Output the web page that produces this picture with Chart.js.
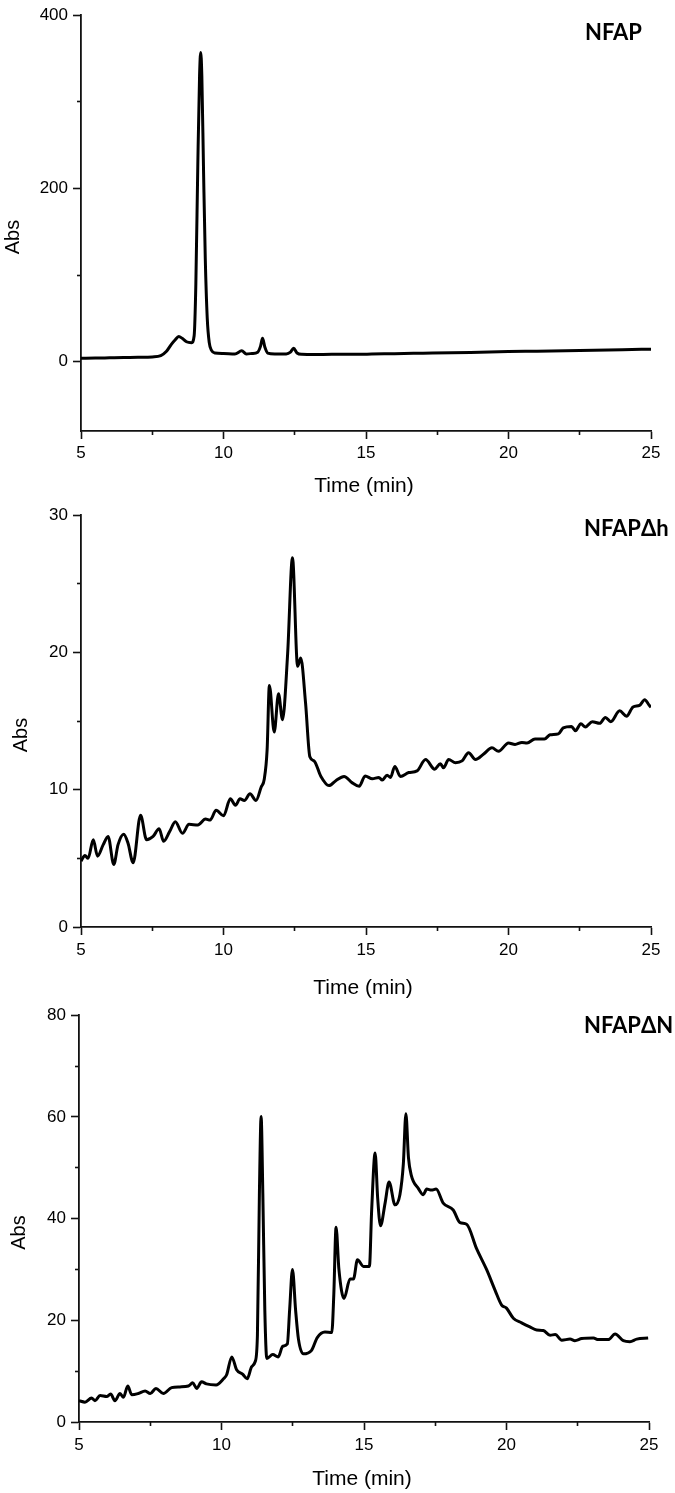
<!DOCTYPE html>
<html><head><meta charset="utf-8">
<script src="https://cdn.jsdelivr.net/npm/chart.js@4.4.1/dist/chart.umd.min.js"></script>
<style>
html,body{margin:0;padding:0;background:#fff;}
#wrap{position:relative;width:675px;height:1493px;overflow:hidden;background:#fff;}
canvas{position:absolute;left:0;}
</style></head><body>
<div id="wrap">
<canvas id="c1" width="675" height="500" style="top:0px"></canvas>
<canvas id="c2" width="675" height="500" style="top:500px"></canvas>
<canvas id="c3" width="675" height="493" style="top:1000px"></canvas>
</div>
<script>
// ---------- data ----------
const panelLabels = ['NFAP', 'NFAP\u0394h', 'NFAP\u0394N'];
const xTitle = 'Time (min)';
const yTitle = 'Abs';

const xMajorTicks = [5, 10, 15, 20, 25];
const xMinorTicks = [7.5, 12.5, 17.5, 22.5];

const nfapYMajor = [0, 200, 400];
const nfapYMinor = [100, 300];
const dhYMajor = [0, 10, 20, 30];
const dhYMinor = [5, 15, 25];
const dnYMajor = [0, 20, 40, 60, 80];
const dnYMinor = [10, 30, 50, 70];

const nfapTime = [5, 5.5, 6, 6.5, 7, 7.5, 7.8, 8.0, 8.17, 8.3, 8.43, 8.55, 8.7, 8.88, 8.97, 9.03, 9.1, 9.16, 9.2, 9.24, 9.3, 9.36, 9.43, 9.5, 9.58, 9.7, 10.0, 10.4, 10.64, 10.8, 11.0, 11.2, 11.3, 11.37, 11.45, 11.55, 11.8, 12.2, 12.35, 12.46, 12.58, 12.75, 13.2, 13.8, 14.5, 15.2, 16, 17, 18, 19, 20, 21, 22, 23, 24, 25];
const nfapAbs  = [4, 4.2, 4.5, 4.8, 5, 5.5, 7, 12, 20, 25, 29, 27, 23, 22, 30, 90, 230, 330, 357, 330, 220, 120, 50, 22, 13, 10, 9.5, 9, 12.5, 9, 9.5, 11, 18, 27, 17, 10, 9, 9, 11, 15.5, 10, 8.5, 8.3, 8.5, 8.5, 8.8, 9.3, 9.8, 10.3, 11, 11.7, 12.1, 12.6, 13.2, 13.9, 14.5];

const dhTime = [5, 5.14, 5.25, 5.43, 5.58, 5.78, 5.95, 6.15, 6.3, 6.5, 6.65, 6.83, 7.09, 7.3, 7.53, 7.74, 7.9, 8.11, 8.31, 8.56, 8.79, 9.1, 9.37, 9.53, 9.74, 10.0, 10.24, 10.42, 10.58, 10.73, 10.93, 11.14, 11.32, 11.43, 11.53, 11.61, 11.78, 11.93, 12.07, 12.25, 12.42, 12.6, 12.71, 12.88, 13.03, 13.18, 13.41, 13.7, 13.94, 14.23, 14.52, 14.76, 14.97, 15.22, 15.45, 15.57, 15.74, 15.86, 16.01, 16.21, 16.5, 16.79, 17.09, 17.41, 17.61, 17.72, 17.9, 18.14, 18.37, 18.6, 18.84, 19.13, 19.42, 19.65, 20.0, 20.23, 20.47, 20.65, 20.93, 21.26, 21.46, 21.75, 21.92, 22.21, 22.35, 22.54, 22.7, 22.94, 23.2, 23.4, 23.59, 23.9, 24.14, 24.37, 24.6, 24.78, 24.92, 25.0];
const dhAbs  = [4.8, 5.2, 5.0, 6.35, 5.16, 6.0, 6.6, 4.56, 6.0, 6.76, 6.1, 4.68, 8.15, 6.36, 6.6, 7.15, 6.24, 6.95, 7.67, 6.83, 7.48, 7.43, 7.86, 7.79, 8.5, 8.1, 9.34, 8.87, 9.34, 9.22, 9.7, 9.22, 10.18, 10.77, 12.9, 17.6, 14.2, 17.0, 15.1, 19.9, 26.9, 19.0, 19.6, 16.3, 12.4, 12.1, 11.0, 10.3, 10.66, 10.97, 10.5, 10.25, 11.0, 10.8, 10.9, 10.7, 11.06, 10.9, 11.7, 10.97, 11.25, 11.37, 12.2, 11.5, 11.9, 11.6, 12.2, 11.97, 12.1, 12.7, 12.2, 12.6, 13.05, 12.8, 13.4, 13.3, 13.45, 13.4, 13.7, 13.7, 14.0, 14.07, 14.5, 14.6, 14.3, 14.8, 14.57, 14.96, 14.84, 15.27, 14.96, 15.75, 15.36, 16.03, 16.15, 16.56, 16.2, 16.0];

const dnTime = [5, 5.21, 5.44, 5.56, 5.74, 5.97, 6.11, 6.26, 6.44, 6.56, 6.71, 6.85, 7.08, 7.32, 7.5, 7.7, 7.96, 8.25, 8.54, 8.84, 8.99, 9.13, 9.3, 9.47, 9.81, 10.07, 10.18, 10.36, 10.53, 10.74, 10.9, 11.06, 11.18, 11.26, 11.33, 11.39, 11.45, 11.52, 11.59, 11.8, 11.99, 12.15, 12.31, 12.39, 12.49, 12.6, 12.7, 12.87, 13.16, 13.36, 13.63, 13.87, 13.94, 14.02, 14.12, 14.3, 14.51, 14.63, 14.77, 14.98, 15.19, 15.27, 15.39, 15.48, 15.58, 15.74, 15.88, 16.09, 16.26, 16.38, 16.47, 16.56, 16.66, 16.91, 17.08, 17.2, 17.37, 17.53, 17.78, 18.13, 18.37, 18.6, 18.95, 19.3, 19.6, 19.83, 20.0, 20.24, 20.53, 20.82, 21.06, 21.29, 21.53, 21.71, 21.94, 22.23, 22.4, 22.64, 23.05, 23.22, 23.57, 23.81, 24.1, 24.33, 24.57, 24.97];
const dnAbs  = [4.2, 3.9, 4.7, 4.2, 5.2, 5.0, 5.5, 4.2, 5.6, 4.85, 7.07, 5.35, 5.6, 6.1, 5.6, 6.6, 5.6, 6.75, 6.9, 7.07, 7.7, 6.6, 7.9, 7.5, 7.3, 8.5, 9.3, 12.8, 10.26, 9.4, 8.5, 10.9, 11.85, 17, 45, 60.1, 45, 22, 12.5, 13.25, 12.8, 14.9, 15.35, 22, 30.0, 22, 16.3, 13.4, 14.1, 16.6, 17.7, 17.6, 25, 38.3, 30, 24.3, 28.1, 28.1, 31.9, 30.6, 30.6, 41.8, 52.9, 44, 38.6, 43.05, 47.2, 42.7, 44.7, 50.7, 60.6, 52, 48.5, 45.9, 44.7, 45.8, 45.6, 45.8, 43.05, 41.7, 39.2, 38.9, 34.1, 30.0, 25.9, 23.0, 22.4, 20.4, 19.5, 18.7, 18.1, 18.0, 17.07, 17.2, 16.1, 16.3, 16.0, 16.4, 16.5, 16.2, 16.2, 17.3, 16.0, 15.8, 16.3, 16.5];

// ---------- drawing ----------
const TICK_FONT = { family: '"Liberation Sans", Arial, sans-serif', size: 17 };

const textPlugin = {
  id: 'panelText',
  afterDraw(chart, args, o) {
    const ctx = chart.ctx, a = chart.chartArea;
    ctx.save();
    ctx.fillStyle = '#000';
    ctx.font = 'bold 22px Lato, "Open Sans", sans-serif';
    ctx.textAlign = 'left'; ctx.textBaseline = 'alphabetic';
    ctx.fillText(o.label, o.labelX, o.labelY);
    ctx.font = '21px "Liberation Sans", Arial, sans-serif';
    ctx.textAlign = 'center'; ctx.textBaseline = 'middle';
    ctx.fillText(xTitle, o.xtX, o.xtY);
    ctx.font = '20px "Liberation Sans", Arial, sans-serif';
    ctx.translate(o.ytX, (a.top + a.bottom) / 2 + 14);
    ctx.rotate(-Math.PI / 2);
    ctx.fillText(yTitle, 0, 0);
    ctx.restore();
  }
};

function makeChart(id, p) {
  const pts = p.time.map((t, i) => ({ x: t, y: p.abs[i] }));
  const gridMajor = { display: true, drawOnChartArea: false, drawTicks: true, tickLength: 8, tickWidth: 1.6, tickColor: '#111', color: '#111' };
  const gridMinor = { display: true, drawOnChartArea: false, drawTicks: true, tickLength: 4, tickWidth: 1.6, tickColor: '#111', color: '#111' };
  return new Chart(document.getElementById(id), {
    type: 'line',
    data: { datasets: [{ data: pts, borderColor: '#000', borderWidth: 3, pointRadius: 0, cubicInterpolationMode: 'monotone', fill: false, xAxisID: 'x', yAxisID: 'y' }] },
    options: {
      responsive: false, animation: false, devicePixelRatio: 1,
      layout: { padding: { top: p.padTop, right: p.padRight, bottom: 0, left: 0 } },
      plugins: { legend: { display: false }, tooltip: { enabled: false }, panelText: p.text },
      scales: {
        x: {
          type: 'linear', position: 'bottom', min: 5, max: 25, weight: 1,
          afterBuildTicks: s => { s.ticks = xMajorTicks.map(v => ({ value: v })); },
          afterFit: s => { s.height = p.xHeight; },
          grid: gridMajor,
          border: { display: true, color: '#111', width: 1.8 },
          ticks: { font: TICK_FONT, color: '#000', padding: p.xPad, maxRotation: 0, autoSkip: false }
        },
        x2: {
          type: 'linear', position: 'bottom', min: 5, max: 25, weight: 0,
          afterBuildTicks: s => { s.ticks = xMinorTicks.map(v => ({ value: v })); },
          afterFit: s => { s.height = 0; },
          grid: gridMinor,
          border: { display: false },
          ticks: { display: false }
        },
        y: {
          type: 'linear', position: 'left', min: p.yMin, max: p.yMax, weight: 1,
          afterBuildTicks: s => { s.ticks = p.yMajor.map(v => ({ value: v })); },
          afterFit: s => { s.width = p.yWidth; },
          grid: gridMajor,
          border: { display: true, color: '#111', width: 1.8 },
          ticks: { font: TICK_FONT, color: '#000', padding: 5, autoSkip: false }
        },
        y2: {
          type: 'linear', position: 'left', min: p.yMin, max: p.yMax, weight: 0,
          afterBuildTicks: s => { s.ticks = p.yMinor.map(v => ({ value: v })); },
          afterFit: s => { s.width = 0; },
          grid: gridMinor,
          border: { display: false },
          ticks: { display: false }
        }
      }
    },
    plugins: [textPlugin]
  });
}

makeChart('c1', {
  time: nfapTime, abs: nfapAbs, yMin: -80, yMax: 400, yMajor: nfapYMajor, yMinor: nfapYMinor,
  padTop: 11, padRight: 24, yWidth: 81, xHeight: 69, xPad: 4,
  text: { label: panelLabels[0], labelX: 585, labelY: 40, xtX: 364, xtY: 486, ytX: 13 }
});
makeChart('c2', {
  time: dhTime, abs: dhAbs, yMin: 0, yMax: 30, yMajor: dhYMajor, yMinor: dhYMinor,
  padTop: 9, padRight: 24, yWidth: 81, xHeight: 73, xPad: 5,
  text: { label: panelLabels[1], labelX: 584, labelY: 36, xtX: 363, xtY: 488, ytX: 21 }
});
makeChart('c3', {
  time: dnTime, abs: dnAbs, yMin: 0, yMax: 80, yMajor: dnYMajor, yMinor: dnYMinor,
  padTop: 3, padRight: 26, yWidth: 79, xHeight: 71, xPad: 5,
  text: { label: panelLabels[2], labelX: 584, labelY: 33, xtX: 362, xtY: 479, ytX: 19.5 }
});
</script>
</body></html>
